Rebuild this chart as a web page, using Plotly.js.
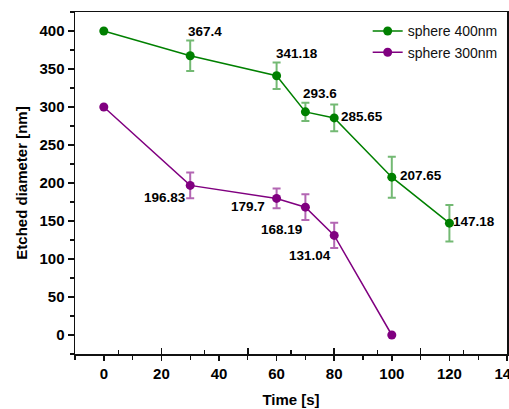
<!DOCTYPE html>
<html>
<head>
<meta charset="utf-8">
<script src="https://cdn.plot.ly/plotly-3.0.1.min.js"></script>
<style>html,body{margin:0;padding:0;background:#fff;}#chart{width:509px;height:409px;}</style>
</head>
<body>
<div id="chart"></div>
<script>
// Data
const time400 = [0, 30, 60, 70, 80, 100, 120];
const diam400 = [400, 367.4, 341.18, 293.6, 285.65, 207.65, 147.18];
const err400 = [0, 20, 17.5, 12, 17.5, 27, 24];
const labels400 = ["", "367.4", "341.18", "293.6", "285.65", "207.65", "147.18"];

const time300 = [0, 30, 60, 70, 80, 100];
const diam300 = [300, 196.83, 179.7, 168.19, 131.04, 0];
const err300 = [0, 17, 13, 17, 16.5, 0];
const labels300 = ["", "196.83", "179.7", "168.19", "131.04", ""];

const names = ["sphere 400nm", "sphere 300nm"];

// Label offsets (pixels) relative to points
const off400 = [[0,0],[15,24],[20,22],[15,18],[28,1],[29,2],[25,2]];
const off300 = [[0,0],[-25,-12],[-29,-8],[-24,-22],[-24,-20],[0,0]];

const green = "#008000", purple = "#800080";
const FONT = "Liberation Sans, Arial, sans-serif";

const traces = [
  {x: time400, y: diam400, name: names[0], type: "scatter", mode: "lines+markers",
   line: {color: green, width: 1.5}, marker: {color: green, size: 9},
   error_y: {type: "data", array: err400, visible: true, color: "rgba(0,128,0,0.55)", thickness: 2, width: 4}},
  {x: time300, y: diam300, name: names[1], type: "scatter", mode: "lines+markers",
   line: {color: purple, width: 1.5}, marker: {color: purple, size: 9},
   error_y: {type: "data", array: err300, visible: true, color: "rgba(128,0,128,0.6)", thickness: 2, width: 4}},
  {x: [-10, 140], y: [-25, -25], xaxis: "x2", yaxis: "y", mode: "none", showlegend: false, hoverinfo: "skip", type: "scatter"}
];

const annotations = [];
function addLabels(xs, ys, labs, offs) {
  for (let i = 0; i < xs.length; i++) {
    if (!labs[i]) continue;
    annotations.push({x: xs[i], y: ys[i], text: labs[i], showarrow: false,
      xshift: offs[i][0], yshift: offs[i][1],
      font: {family: FONT, size: 13.5, color: "#000", weight: "bold"}});
  }
}
addLabels(time400, diam400, labels400, off400);
addLabels(time300, diam300, labels300, off300);

const tickFont = {family: FONT, size: 15, color: "#000", weight: "bold"};

const layout = {
  width: 509, height: 409,
  margin: {l: 75, r: 2, t: 12, b: 55},
  paper_bgcolor: "#fff", plot_bgcolor: "#fff",
  showlegend: true,
  legend: {x: 0.99, y: 0.99, xanchor: "right", yanchor: "top", bgcolor: "rgba(0,0,0,0)",
    font: {family: FONT, size: 14, color: "#111"}, tracegroupgap: 0, itemwidth: 30},
  xaxis: {range: [-10, 140], tickmode: "linear", tick0: 0, dtick: 20, ticks: "outside", ticklen: 5, tickwidth: 1.5,
    tickcolor: "#111", showline: true, linecolor: "#111", linewidth: 1.5, mirror: true, showgrid: false, zeroline: false,
    ticklabeloverflow: "allow",
    minor: {dtick: 10, tick0: 0, ticks: "outside", ticklen: 4, tickwidth: 1.2, tickcolor: "#111", showgrid: false},
    tickfont: tickFont,
    title: {text: "Time [s]", font: {family: FONT, size: 15, color: "#000", weight: "bold"}, standoff: 14}},
  xaxis2: {range: [-10, 140], overlaying: "x", anchor: "y", side: "bottom", tickmode: "linear", tick0: 20, dtick: 30,
    ticks: "inside", ticklen: 6, tickwidth: 1.5, tickcolor: "#111", showticklabels: false, showgrid: false, zeroline: false, showline: false,
    minor: {dtick: 15, tick0: 5, ticks: "inside", ticklen: 4, tickwidth: 1.2, tickcolor: "#111", showgrid: false}},
  yaxis: {range: [-25, 425], tickmode: "linear", tick0: 0, dtick: 50, ticks: "outside", ticklen: 6, tickwidth: 1.5,
    tickcolor: "#111", showline: true, linecolor: "#111", linewidth: 1.5, mirror: true, showgrid: false, zeroline: false,
    minor: {dtick: 25, tick0: 0, ticks: "outside", ticklen: 4, tickwidth: 1.2, tickcolor: "#111", showgrid: false},
    tickfont: tickFont,
    title: {text: "Etched diameter [nm]", font: {family: FONT, size: 15, color: "#000", weight: "bold"}, standoff: 8}},
  annotations: annotations
};

Plotly.newPlot("chart", traces, layout, {displayModeBar: false, staticPlot: true});
</script>
</body>
</html>
